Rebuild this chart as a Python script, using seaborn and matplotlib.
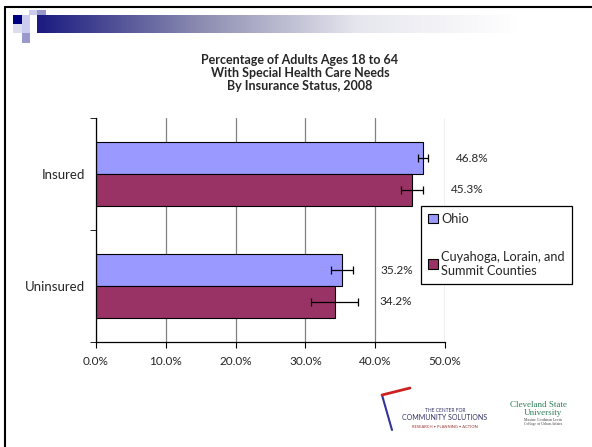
import numpy as np
import pandas as pd
import seaborn as sns
import matplotlib.pyplot as plt
from matplotlib.patches import Rectangle
from matplotlib.lines import Line2D
from matplotlib.colors import LinearSegmentedColormap

### Data
categories = ["Insured", "Uninsured"]
regions = ["Ohio", "Cuyahoga, Lorain, and\nSummit Counties"]
ohio_pct = [46.8, 35.2]
cuyahoga_pct = [45.3, 34.2]
ohio_err = [0.7, 1.6]
cuyahoga_err = [1.55, 3.4]
xticks = [0, 10, 20, 30, 40, 50]
title = "Percentage of Adults Ages 18 to 64\nWith Special Health Care Needs\nBy Insurance Status, 2008"

df = pd.DataFrame({
    "status": categories * 2,
    "region": [regions[0]] * 2 + [regions[1]] * 2,
    "pct": ohio_pct + cuyahoga_pct,
})
errors = [ohio_err, cuyahoga_err]

sns.set_style("white")
plt.rcParams["font.family"] = ["Lato", "DejaVu Sans"]

W, H = 592, 447
fig = plt.figure(figsize=(W / 100, H / 100), dpi=100)


def px(x, y, w, h):
    # pixel box (top-left origin) -> figure fraction
    return [x / W, 1 - (y + h) / H, w / W, h / H]


### Slide decoration
fig.add_artist(Line2D([5 / W, 5 / W], [0, 1 - 7 / H], color="black", lw=1.5))
fig.add_artist(Line2D([5 / W, 1], [1 - 7 / H, 1 - 7 / H], color="black", lw=1.5))

squares = [
    (13, 15, 9, 9, "#000080"),
    (22, 15, 8, 9, "#ccccee"),
    (29, 10, 8, 5, "#ccccee"),
    (37, 10, 9, 5, "#9999cc"),
    (13, 24, 9, 9, "#ddddf0"),
    (22, 24, 8, 9, "#ccccee"),
    (22, 33, 8, 10, "#9999cc"),
]
for x, y, w, h, c in squares:
    b = px(x, y, w, h)
    fig.add_artist(Rectangle((b[0], b[1]), b[2], b[3], transform=fig.transFigure,
                             facecolor=c, edgecolor="none"))

grad_ax = fig.add_axes(px(37, 15, 480, 18))
cmap = LinearSegmentedColormap.from_list("hdr", ["#1a1a80", "#8a8ab0", "#e6e6ee", "#ffffff"])
grad_ax.imshow(np.linspace(0, 1, 256)[None, :], aspect="auto", cmap=cmap)
grad_ax.axis("off")

### Chart
ax = fig.add_axes(px(96, 118, 349, 224))
sns.barplot(data=df, y="status", x="pct", hue="region", orient="h",
            palette=["#9999ff", "#993366"], saturation=1, edgecolor="black",
            linewidth=0.8, width=0.57, errorbar=None, ax=ax)

label_pad = [[4, 4], [4, 3]]
for cont, errs, pads in zip(ax.containers, errors, label_pad):
    for bar, e, p in zip(cont, errs, pads):
        yc = bar.get_y() + bar.get_height() / 2
        val = bar.get_width()
        ax.errorbar(val, yc, xerr=e, fmt="none", ecolor="black",
                    elinewidth=0.9, capsize=3, capthick=0.9)
        ax.text(val + e + p, yc, f"{val:.1f}%", va="center", ha="left", fontsize=8.5)

ax.set_xlim(0, 50)
ax.set_xticks(xticks)
ax.set_xticklabels([f"{t:.1f}%" for t in xticks], fontsize=8.5)
ax.set_ylim(1.5, -0.5)
ax.set_yticks([0, 1])
ax.set_yticklabels(categories, fontsize=9.5)
ax.set_yticks([-0.5, 0.5, 1.5], minor=True)
ax.tick_params(axis="y", which="major", length=0, pad=8)
ax.tick_params(axis="y", which="minor", length=4, color="black", direction="out", left=True)
ax.tick_params(axis="x", length=4, color="black", direction="out", bottom=True, pad=6)
ax.set_xlabel("")
ax.set_ylabel("")
ax.grid(axis="x", color="#808080", lw=0.9)
ax.set_axisbelow(True)
for side in ["top", "right"]:
    ax.spines[side].set_visible(False)
for side in ["left", "bottom"]:
    ax.spines[side].set_color("black")
    ax.spines[side].set_linewidth(0.9)

handles, labels = ax.get_legend_handles_labels()
ax.legend(handles, labels, loc="upper left", bbox_to_anchor=(421 / W, 1 - 206 / H),
          bbox_transform=fig.transFigure, borderaxespad=0, fontsize=9.2,
          handlelength=0.75, handleheight=0.75, handletextpad=0.3,
          labelspacing=2.0, fancybox=False, framealpha=1, edgecolor="black",
          borderpad=0.55)
ax.get_legend().get_frame().set_linewidth(0.9)

fig.text(300 / W, 1 - 73 / H, title, ha="center", va="center",
         fontsize=9, fontweight="bold", linespacing=1.1)

### Logos (text stand-ins)
fig.text(445 / W, 1 - 412 / H, "THE CENTER FOR", ha="center", fontsize=3.5, color="#333366")
fig.text(445 / W, 1 - 420 / H, "COMMUNITY SOLUTIONS", ha="center", fontsize=5, color="#333366")
fig.text(445 / W, 1 - 428 / H, "RESEARCH • PLANNING • ACTION", ha="center", fontsize=3, color="#993333")
fig.add_artist(Line2D([382 / W, 392 / W], [1 - 395 / H, 1 - 430 / H], color="#333399", lw=1.5))
fig.add_artist(Line2D([382 / W, 410 / W], [1 - 395 / H, 1 - 388 / H], color="#cc2222", lw=2))
fig.text(538 / W, 1 - 407 / H, "Cleveland State", ha="center", fontsize=6.5,
         color="#2e7d5b", family=["Liberation Serif"])
fig.text(543 / W, 1 - 415 / H, "University", ha="center", fontsize=6.5,
         color="#2e7d5b", family=["Liberation Serif"])
fig.text(543 / W, 1 - 425 / H, "Maxine Goodman Levin\nCollege of Urban Affairs", ha="center",
         fontsize=2.8, color="#444444", family=["Liberation Serif"], linespacing=1.0)

plt.savefig("out.png", dpi=100)
